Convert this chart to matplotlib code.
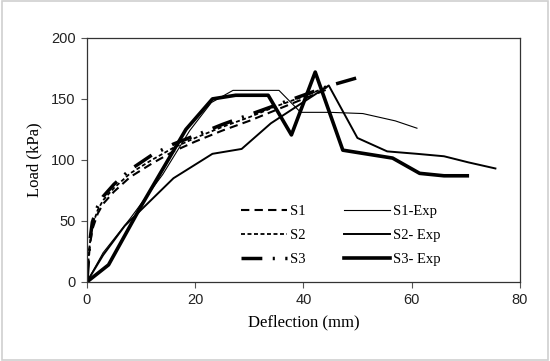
import matplotlib
matplotlib.use("Agg")
import matplotlib.pyplot as plt
from matplotlib.patches import Rectangle

# Model curves
s1_x = [0, 0.5, 1, 2, 3, 5, 8, 12, 16, 20, 25, 30, 35, 40, 44.5]
s1_y = [0, 28, 43, 56, 64, 74, 86, 97, 107, 115, 124, 132, 141, 150, 158]
s2_x = [0, 0.5, 1, 2, 3, 5, 8, 12, 16, 20, 25, 30, 35, 40, 44.5]
s2_y = [0, 30, 46, 59, 67, 77, 89, 100, 110, 118, 127, 135, 144, 152, 160]
s3_x = [0, 0.5, 1, 2, 3, 5, 8, 12, 16, 20, 25, 30, 35, 40, 45, 50.5]
s3_y = [0, 32, 49, 62, 70, 80, 92, 104, 113, 120, 129, 137, 145, 153, 161, 168]

# Experimental curves
s1e_x = [0, 3, 8, 14, 19, 23, 27, 31, 35.5, 39.5, 45, 51, 57, 61]
s1e_y = [0, 24, 52, 88, 124, 147, 157, 157, 157, 139, 139, 138, 132, 126]
s2e_x = [0, 3, 7, 16, 23.2, 28.6, 34, 44.7, 50, 55.5, 61, 66, 70.5, 75.5]
s2e_y = [0, 22, 46, 85, 105, 109, 130, 161, 118, 107, 105, 103, 98, 93]
s3e_x = [0, 4, 10, 18.3, 23.2, 27.5, 33.5, 37.8, 42.2, 47.3, 56.5, 61.5, 66, 70.3]
s3e_y = [0, 14, 62, 125, 150, 153, 153, 120.5, 172, 108, 101.5, 89, 87, 87]

xticks = [0, 20, 40, 60, 80]
yticks = [0, 50, 100, 150, 200]

fig = plt.figure(figsize=(5.5, 3.61), dpi=100)
ax = fig.add_axes([0.158, 0.219, 0.787, 0.676])

serif = "Liberation Serif"
ax.plot(s1_x, s1_y, color="black", lw=1.5, dashes=(4, 2.5), label="S1")
ax.plot(s2_x, s2_y, color="black", lw=1.3, dashes=(2.2, 1.4), label="S2")
ax.plot(s3_x, s3_y, color="black", lw=2.5, dashes=(6, 3, 0.6, 3), label="S3")
ax.plot(s1e_x, s1e_y, color="black", lw=0.8, label="S1-Exp")
ax.plot(s2e_x, s2e_y, color="black", lw=1.4, label="S2- Exp")
ax.plot(s3e_x, s3e_y, color="black", lw=2.6, label="S3- Exp")

ax.set_xlim(0, 80)
ax.set_ylim(0, 200)
ax.set_xticks(xticks)
ax.set_yticks(yticks)
for lab in ax.get_xticklabels() + ax.get_yticklabels():
    lab.set_fontfamily("Liberation Sans")
    lab.set_fontsize(10.5)
    lab.set_color("#222222")
ax.tick_params(direction="out", length=4, width=0.8, color="#555555", pad=4)
for sp in ax.spines.values():
    sp.set_color("#333333")
    sp.set_linewidth(0.9)

ax.set_xlabel("Deflection (mm)", fontfamily=serif, fontsize=12, labelpad=5)
ax.set_ylabel("Load (kPa)", fontfamily=serif, fontsize=12, labelpad=6)

leg = ax.legend(ncol=2, loc="lower left", bbox_to_anchor=(0.325, 0.012),
                frameon=False, prop={"family": serif, "size": 10.5},
                handlelength=3.2, handletextpad=0.2, columnspacing=2.6,
                labelspacing=0.72)

fig.add_artist(Rectangle((0.003, 0.004), 0.994, 0.992, transform=fig.transFigure,
                         fill=False, edgecolor="#d0d0d0", lw=1.2))

fig.savefig("out.png", dpi=100)
